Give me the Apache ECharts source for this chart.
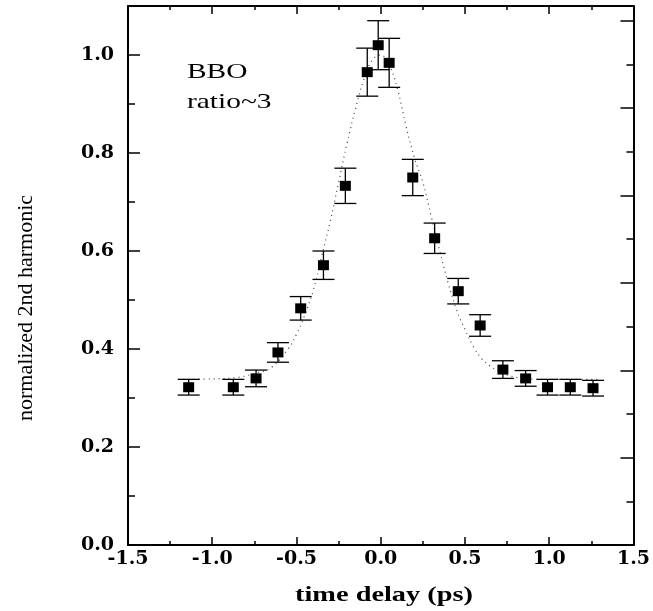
<!DOCTYPE html>
<html>
<head>
<meta charset="utf-8">
<script src="https://cdn.jsdelivr.net/npm/echarts@6/dist/echarts.min.js"></script>
<style>html,body{margin:0;padding:0;background:#fff;}#c{width:653px;height:611px;}</style>
</head>
<body>
<div id="c"></div>
<script>
// ---- data ----
const timeDelay = [-1.14, -0.875, -0.74, -0.61, -0.475, -0.34, -0.21, -0.08, -0.015, 0.05, 0.19, 0.32, 0.46, 0.59, 0.725, 0.86, 0.99, 1.125, 1.26];
const harmonic  = [0.322, 0.322, 0.340, 0.393, 0.483, 0.571, 0.733, 0.965, 1.020, 0.984, 0.750, 0.626, 0.518, 0.448, 0.358, 0.340, 0.322, 0.322, 0.320];
const errorBar  = [0.016, 0.016, 0.017, 0.020, 0.024, 0.029, 0.036, 0.049, 0.050, 0.050, 0.037, 0.031, 0.026, 0.022, 0.018, 0.016, 0.016, 0.016, 0.016];

const fitX = [-1.2, -1.0, -0.85, -0.75, -0.65, -0.55, -0.5, -0.45, -0.4, -0.35, -0.3, -0.25, -0.2, -0.15, -0.1, -0.05, 0.0, 0.05, 0.1, 0.15, 0.2, 0.25, 0.3, 0.35, 0.4, 0.45, 0.5, 0.55, 0.6, 0.65, 0.7, 0.75, 0.85, 1.0, 1.15, 1.3];
const fitY = [0.338, 0.339, 0.342, 0.350, 0.362, 0.400, 0.430, 0.470, 0.520, 0.590, 0.660, 0.740, 0.820, 0.890, 0.950, 0.990, 1.000, 0.980, 0.930, 0.855, 0.790, 0.740, 0.670, 0.600, 0.535, 0.480, 0.440, 0.405, 0.380, 0.365, 0.355, 0.347, 0.340, 0.338, 0.338, 0.338];

const xTicks = ['-1.5', '-1.0', '-0.5', '0.0', '0.5', '1.0', '1.5'];
const yTicks = ['0.0', '0.2', '0.4', '0.6', '0.8', '1.0'];

const xLabel = 'time delay (ps)';
const yLabel = 'normalized 2nd harmonic';
const note1 = 'BBO';
const note2 = 'ratio~3';
// --------------------------------------

const chart = echarts.init(document.getElementById('c'), null, {renderer: 'canvas'});
const black = '#000';
const labelFont = {fontFamily: 'DejaVu Serif', fontWeight: 'bold', fontSize: 19, color: black};

function baseX(extra) {
  return Object.assign({
    type: 'value', min: -1.5, max: 1.5, gridIndex: 0,
    splitLine: {show: false},
    axisLine: {show: true, onZero: false, lineStyle: {color: black, width: 2}},
    axisTick: {show: true, inside: true, length: 8, lineStyle: {color: black, width: 1.5}},
    axisLabel: {show: false}
  }, extra);
}
function baseY(extra) {
  return Object.assign({
    type: 'value', min: 0, max: 1.1, gridIndex: 0,
    splitLine: {show: false},
    axisLine: {show: true, onZero: false, lineStyle: {color: black, width: 2}},
    axisTick: {show: true, inside: true, length: 12, lineStyle: {color: black, width: 1.5}},
    axisLabel: {show: false}
  }, extra);
}
const hiddenLine = {show: false, onZero: false};

const errData = timeDelay.map((t, i) => [t, harmonic[i] - errorBar[i], harmonic[i] + errorBar[i]]);
const ptData = timeDelay.map((t, i) => [t, harmonic[i]]);
const fitData = fitX.map((t, i) => [t, fitY[i]]);

const option = {
  backgroundColor: '#fff',
  animation: false,
  grid: {left: 128, right: 18, top: 6, bottom: 66, containLabel: false},
  xAxis: [
    baseX({position: 'bottom', interval: 0.5,
      axisLabel: Object.assign({show: true, margin: 5,
        formatter: v => { const s = v.toFixed(1); return xTicks.indexOf(s) >= 0 ? s : ''; }}, labelFont)}),
    baseX({position: 'bottom', interval: 0.25, axisLine: hiddenLine,
      axisTick: {show: true, inside: true, length: 4, lineStyle: {color: black, width: 1.5}}}),
    baseX({position: 'top', interval: 0.5}),
    baseX({position: 'top', interval: 0.25, axisLine: hiddenLine,
      axisTick: {show: true, inside: true, length: 4, lineStyle: {color: black, width: 1.5}}})
  ],
  yAxis: [
    baseY({position: 'left', interval: 0.2,
      axisLabel: Object.assign({show: true, margin: 14, showMaxLabel: false,
        formatter: v => { const s = v.toFixed(1); return yTicks.indexOf(s) >= 0 && v < 1.05 ? s : ''; }}, labelFont)}),
    baseY({position: 'left', interval: 0.1, axisLine: hiddenLine,
      axisTick: {show: true, inside: true, length: 7, lineStyle: {color: black, width: 1.5}}}),
    baseY({position: 'right', min: 0, max: 6.17, interval: 1,
      axisTick: {show: true, inside: true, length: 13, lineStyle: {color: black, width: 1.5}}}),
    baseY({position: 'right', min: 0, max: 6.17, interval: 0.5, axisLine: hiddenLine,
      axisTick: {show: true, inside: true, length: 7, lineStyle: {color: black, width: 1.5}}})
  ],
  series: [
    {
      type: 'line', xAxisIndex: 0, yAxisIndex: 0, data: fitData,
      smooth: 0.4, showSymbol: false, symbol: 'none',
      lineStyle: {color: '#444', width: 1.2, type: [1, 4]}, z: 1, silent: true
    },
    {
      type: 'custom', xAxisIndex: 0, yAxisIndex: 0, data: errData,
      encode: {x: 0, y: [1, 2]}, z: 2, silent: true,
      renderItem: function (params, api) {
        const x = api.value(0);
        const top = api.coord([x, api.value(2)]);
        const bot = api.coord([x, api.value(1)]);
        const hw = 11;
        const st = {stroke: black, lineWidth: 1.3};
        return {type: 'group', children: [
          {type: 'line', shape: {x1: top[0], y1: top[1], x2: bot[0], y2: bot[1]}, style: st},
          {type: 'line', shape: {x1: top[0] - hw, y1: top[1], x2: top[0] + hw, y2: top[1]}, style: st},
          {type: 'line', shape: {x1: bot[0] - hw, y1: bot[1], x2: bot[0] + hw, y2: bot[1]}, style: st}
        ]};
      }
    },
    {
      type: 'scatter', xAxisIndex: 0, yAxisIndex: 0, data: ptData,
      symbol: 'rect', symbolSize: [11, 10], z: 3, silent: true,
      itemStyle: {color: black, opacity: 1}
    }
  ],
  graphic: [
    {type: 'text', x: 187, y: 72, scaleX: 1.4, style: {text: note1, font: '21px "Liberation Serif"', fill: black, align: 'left', verticalAlign: 'middle'}},
    {type: 'text', x: 187, y: 102, scaleX: 1.4, style: {text: note2, font: '21px "Liberation Serif"', fill: black, align: 'left', verticalAlign: 'middle'}},
    {type: 'text', x: 384, y: 596, scaleX: 1.35, style: {text: xLabel, font: 'bold 21px "Liberation Serif"', fill: black, align: 'center', verticalAlign: 'middle'}},
    {type: 'text', x: 26, y: 308, rotation: Math.PI / 2, style: {text: yLabel, font: '22px "Liberation Serif"', fill: black, align: 'center', verticalAlign: 'middle'}}
  ]
};
chart.setOption(option);
</script>
</body>
</html>
